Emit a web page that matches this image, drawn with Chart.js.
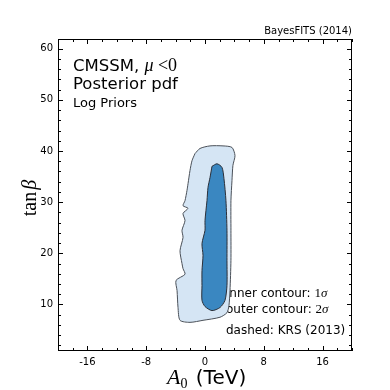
<!DOCTYPE html>
<html>
<head>
<meta charset="utf-8">
<script src="https://cdn.jsdelivr.net/npm/chart.js@4.4.1/dist/chart.umd.min.js"></script>
<style>
  body { margin: 0; background: #fff; }
  #wrap { width: 390px; height: 390px; }
</style>
</head>
<body>
<div id="wrap"><canvas id="chart" width="390" height="390"></canvas></div>
<script>
// contour outlines, A0 in TeV and tan(beta)
var outerX = [-1.36, -0.68, 0.68, 2.45, 3.67, 4.08, 3.80, 3.67, 3.53, 3.53, 3.53, 3.40, 3.26, 2.99, 2.04, -0.27, -2.04, -3.40, -3.67, -3.80, -3.94, -2.72, -2.99, -3.13, -3.40, -2.99, -3.13, -2.72, -2.99, -2.31, -2.99, -2.72, -2.45, -2.31, -2.04, -1.77, -1.36];
var outerY = [39.5, 40.5, 41.0, 41.0, 40.7, 39.1, 37.2, 34.2, 30.3, 24.5, 18.6, 12.7, 9.8, 8.4, 7.5, 6.9, 6.5, 6.9, 9.4, 12.7, 14.7, 15.9, 17.0, 18.0, 20.5, 23.1, 24.5, 26.4, 27.8, 28.8, 29.3, 30.3, 32.3, 33.6, 36.2, 38.1, 39.5];
var innerX = [0.95, 1.63, 2.31, 2.58, 2.85, 2.99, 2.99, 2.99, 2.72, 2.04, 0.95, 0.00, -0.41, -0.41, -0.41, -0.27, -0.41, 0.00, 0.00, 0.27, 0.41, 0.68, 0.95];
var innerY = [37.0, 37.5, 36.8, 34.6, 30.3, 24.5, 18.6, 13.7, 10.8, 9.4, 8.8, 9.6, 10.8, 13.7, 16.6, 19.6, 21.9, 24.5, 26.4, 30.3, 32.9, 34.8, 37.0];

var xTicks = [-16, -8, 0, 8, 16];
var yTicks = [10, 20, 30, 40, 50, 60];

function toPoints(xs, ys) {
  var pts = [];
  for (var i = 0; i < xs.length; i++) {
    pts.push({x: xs[i], y: ys[i]});
  }
  return pts;
}

var SANS = '"DejaVu Sans", sans-serif';
var SERIF = '"Liberation Serif", "DejaVu Serif", serif';

// draws runs of text with different fonts one after the other
function drawRuns(ctx, x, y, runs) {
  for (var i = 0; i < runs.length; i++) {
    ctx.font = runs[i][1];
    ctx.fillText(runs[i][0], x + (runs[i][2] || 0), y + (runs[i][3] || 0));
    x += ctx.measureText(runs[i][0]).width + (runs[i][2] || 0);
  }
}

var decor = {
  id: 'decor',
  beforeDatasetsDraw: function(chart) {
    var ctx = chart.ctx;
    ctx.save();
    ctx.fillStyle = '#000';
    ctx.textBaseline = 'alphabetic';
    ctx.textAlign = 'left';
    drawRuns(ctx, 73, 71, [['CMSSM, ', '16.5px ' + SANS], ['\u03bc', 'italic 18px ' + SERIF], [' <', '18px ' + SERIF], ['0', '18px ' + SERIF]]);
    ctx.font = '16.5px ' + SANS;
    ctx.fillText('Posterior pdf', 73, 89);
    ctx.font = '13px ' + SANS;
    ctx.fillText('Log Priors', 73, 107);

    drawRuns(ctx, 226, 297, [['inner contour: ', '12px ' + SANS], ['1', '13px ' + SERIF], ['\u03c3', 'italic 13px ' + SERIF]]);
    drawRuns(ctx, 226, 313, [['outer contour: ', '12px ' + SANS], ['2', '13px ' + SERIF], ['\u03c3', 'italic 13px ' + SERIF]]);
    ctx.font = '12px ' + SANS;
    ctx.fillText('dashed: KRS (2013)', 226, 334);
    ctx.restore();
  },
  afterDraw: function(chart) {
    var ctx = chart.ctx;
    var a = chart.chartArea;
    var xs = chart.scales.x, ys = chart.scales.y;
    ctx.save();
    ctx.strokeStyle = '#000';
    ctx.lineWidth = 1;
    ctx.strokeRect(a.left + 0.5, a.top + 0.5, a.right - a.left - 1, a.bottom - a.top - 1);

    ctx.beginPath();
    for (var v = -20; v <= 20; v += 2) {
      var px = Math.round(xs.getPixelForValue(v)) + 0.5;
      var len = xTicks.indexOf(v) >= 0 ? 5 : 3;
      ctx.moveTo(px, a.bottom); ctx.lineTo(px, a.bottom - len);
      ctx.moveTo(px, a.top); ctx.lineTo(px, a.top + len);
    }
    for (var w = 2; w <= 60; w += 2) {
      var py = Math.round(ys.getPixelForValue(w)) + 0.5;
      var l2 = yTicks.indexOf(w) >= 0 ? 5 : 3;
      ctx.moveTo(a.left, py); ctx.lineTo(a.left + l2, py);
      ctx.moveTo(a.right, py); ctx.lineTo(a.right - l2, py);
    }
    ctx.stroke();

    ctx.fillStyle = '#000';
    ctx.textAlign = 'right';
    ctx.textBaseline = 'bottom';
    ctx.font = '10px ' + SANS;
    ctx.fillText('BayesFITS (2014)', a.right, a.top - 3);

    // x axis title
    ctx.textAlign = 'left';
    ctx.textBaseline = 'alphabetic';
    drawRuns(ctx, 167, 384, [['A', 'italic 22px ' + SERIF], ['0', '14px ' + SERIF, 0, 4], [' (TeV)', '20px ' + SANS, 2, 0]]);

    // y axis title
    ctx.translate(36, 198);
    ctx.rotate(-Math.PI / 2);
    ctx.textAlign = 'left';
    ctx.font = '20px ' + SERIF;
    var tw = ctx.measureText('tan').width;
    ctx.font = 'italic 20px ' + SERIF;
    var bw = ctx.measureText('\u03b2').width;
    var x0 = -(tw + 2 + bw) / 2;
    drawRuns(ctx, x0, 0, [['tan', '20px ' + SERIF], ['\u03b2', 'italic 20px ' + SERIF, 2, 0]]);
    ctx.restore();
  }
};

new Chart(document.getElementById('chart'), {
  type: 'scatter',
  data: {
    datasets: [{
      label: 'inner',
      data: toPoints(innerX, innerY),
      showLine: true,
      fill: 'shape',
      backgroundColor: '#3a87c1',
      borderColor: '#2b2f38',
      borderWidth: 1,
      pointRadius: 0,
      tension: 0.25,
      order: 1
    }, {
      label: 'outer',
      data: toPoints(outerX, outerY),
      showLine: true,
      fill: 'shape',
      backgroundColor: '#d5e5f4',
      borderColor: '#4a5058',
      borderWidth: 1,
      pointRadius: 0,
      tension: 0.25,
      order: 2
    }]
  },
  options: {
    responsive: false,
    animation: false,
    layout: { padding: { top: 39, right: 38, left: 0, bottom: 0 } },
    plugins: {
      legend: { display: false },
      tooltip: { enabled: false },
      filler: { drawTime: 'beforeDatasetDraw' }
    },
    scales: {
      x: {
        type: 'linear',
        min: -20,
        max: 20,
        afterFit: function(s) { s.height = 39; },
        afterBuildTicks: function(s) { s.ticks = xTicks.map(function(v) { return {value: v}; }); },
        grid: { display: false, drawTicks: false },
        border: { display: false },
        ticks: { color: '#000', font: { family: SANS, size: 10 }, padding: 5, maxRotation: 0 }
      },
      y: {
        type: 'linear',
        min: 0.9,
        max: 61.9,
        afterFit: function(s) { s.width = 58; },
        afterBuildTicks: function(s) { s.ticks = yTicks.map(function(v) { return {value: v}; }); },
        grid: { display: false, drawTicks: false },
        border: { display: false },
        ticks: { color: '#000', font: { family: SANS, size: 10 }, padding: 5 }
      }
    }
  },
  plugins: [decor]
});
</script>
</body>
</html>
